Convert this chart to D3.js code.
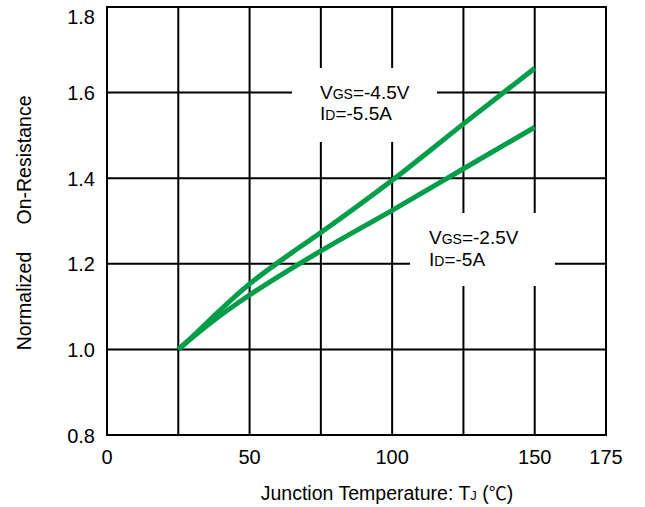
<!DOCTYPE html>
<html>
<head>
<meta charset="utf-8">
<script src="https://cdn.jsdelivr.net/npm/d3@7"></script>
<style>
  html, body { margin: 0; padding: 0; background: #fff; }
  svg { display: block; font-family: Arial, "Liberation Sans", sans-serif; }
</style>
</head>
<body>
<svg id="chart" width="645" height="507"></svg>
<script>
// Junction temperature (°C) sample points
const tempsHigh = [25, 30, 37.5, 50, 62.5, 75, 100, 125, 150];
// Normalized on-resistance, VGS = -4.5V, ID = -5.5A
const rdsHigh = [1.0, 1.03, 1.078, 1.153, 1.215, 1.273, 1.395, 1.527, 1.657];
const tempsLow = [25, 30, 37.5, 50, 62.5, 75, 100, 125, 150];
// Normalized on-resistance, VGS = -2.5V, ID = -5A
const rdsLow = [1.0, 1.028, 1.068, 1.127, 1.18, 1.23, 1.325, 1.422, 1.519];

const xGridTicks = [0, 25, 50, 75, 100, 125, 150, 175];
const xLabelTicks = [0, 50, 100, 150, 175];
const yTicks = [0.8, 1.0, 1.2, 1.4, 1.6, 1.8];

const svg = d3.select("#chart");
const plotLeft = 107, plotRight = 606, plotTop = 7, plotBottom = 435;
const font = "Arial, 'Liberation Sans', sans-serif";

const x = d3.scaleLinear().domain([0, 175]).range([plotLeft, plotRight]);
const y = d3.scaleLinear().domain([0.8, 1.8]).range([plotBottom, plotTop]);

// grid
const grid = svg.append("g").attr("stroke", "#000").attr("stroke-width", 2);
grid.selectAll("line.v").data(xGridTicks).join("line").attr("class", "v")
  .attr("x1", d => x(d)).attr("x2", d => x(d))
  .attr("y1", plotTop).attr("y2", plotBottom);
grid.selectAll("line.h").data(yTicks).join("line").attr("class", "h")
  .attr("x1", plotLeft - 1).attr("x2", plotRight + 1)
  .attr("y1", d => y(d)).attr("y2", d => y(d));

// y tick labels (top label sits just below its gridline so it stays in view)
svg.append("g").selectAll("text").data(yTicks).join("text")
  .attr("x", 95)
  .attr("y", d => d === 1.8 ? y(d) + 17 : y(d) + 7.5)
  .attr("text-anchor", "end")
  .attr("font-size", 20).attr("font-family", font).attr("fill", "#000")
  .text(d3.format(".1f"));

// x tick labels
svg.append("g").selectAll("text").data(xLabelTicks).join("text")
  .attr("x", d => x(d))
  .attr("y", plotBottom + 29)
  .attr("text-anchor", "middle")
  .attr("font-size", 20).attr("font-family", font).attr("fill", "#000")
  .text(d3.format("d"));

// annotation boxes hide the grid behind the labels
svg.append("rect").attr("x", 292).attr("y", 68).attr("width", 145).attr("height", 74).attr("fill", "#fff");
svg.append("rect").attr("x", 410).attr("y", 213).attr("width", 145).attr("height", 73).attr("fill", "#fff");

function label(xp, yp, main, sub, rest) {
  const t = svg.append("text").attr("x", xp).attr("y", yp)
    .attr("font-size", 19).attr("font-family", font).attr("fill", "#000");
  t.append("tspan").text(main);
  t.append("tspan").attr("font-size", 14).text(sub);
  t.append("tspan").text(rest);
}
label(320, 99, "V", "GS", "=-4.5V");
label(320, 120, "I", "D", "=-5.5A");
label(429, 244, "V", "GS", "=-2.5V");
label(429, 266, "I", "D", "=-5A");

// curves
const line = d3.line().x(d => x(d[0])).y(d => y(d[1])).curve(d3.curveMonotoneX);
const series = [
  d3.zip(tempsHigh, rdsHigh),
  d3.zip(tempsLow, rdsLow)
];
svg.append("g").selectAll("path").data(series).join("path")
  .attr("d", line)
  .attr("fill", "none")
  .attr("stroke", "#009e49")
  .attr("stroke-width", 5);

// axis titles
const xt = svg.append("text").attr("x", 387).attr("y", 500)
  .attr("text-anchor", "middle").attr("font-size", 19.5).attr("font-family", font).attr("fill", "#000");
xt.append("tspan").text("Junction Temperature: T");
xt.append("tspan").attr("font-size", 13).text("J");
xt.append("tspan").text(" (");
xt.append("tspan").attr("font-family", "'Noto Sans CJK SC', sans-serif").attr("font-size", 18).text("℃");
xt.append("tspan").text(")");

svg.append("text").attr("transform", "translate(31,301) rotate(-90)")
  .attr("text-anchor", "middle").attr("font-size", 19.5).attr("font-family", font).attr("fill", "#000")
  .text("Normalized");
svg.append("text").attr("transform", "translate(31,160) rotate(-90)")
  .attr("text-anchor", "middle").attr("font-size", 19.5).attr("font-family", font).attr("fill", "#000")
  .text("On-Resistance");
</script>
</body>
</html>
